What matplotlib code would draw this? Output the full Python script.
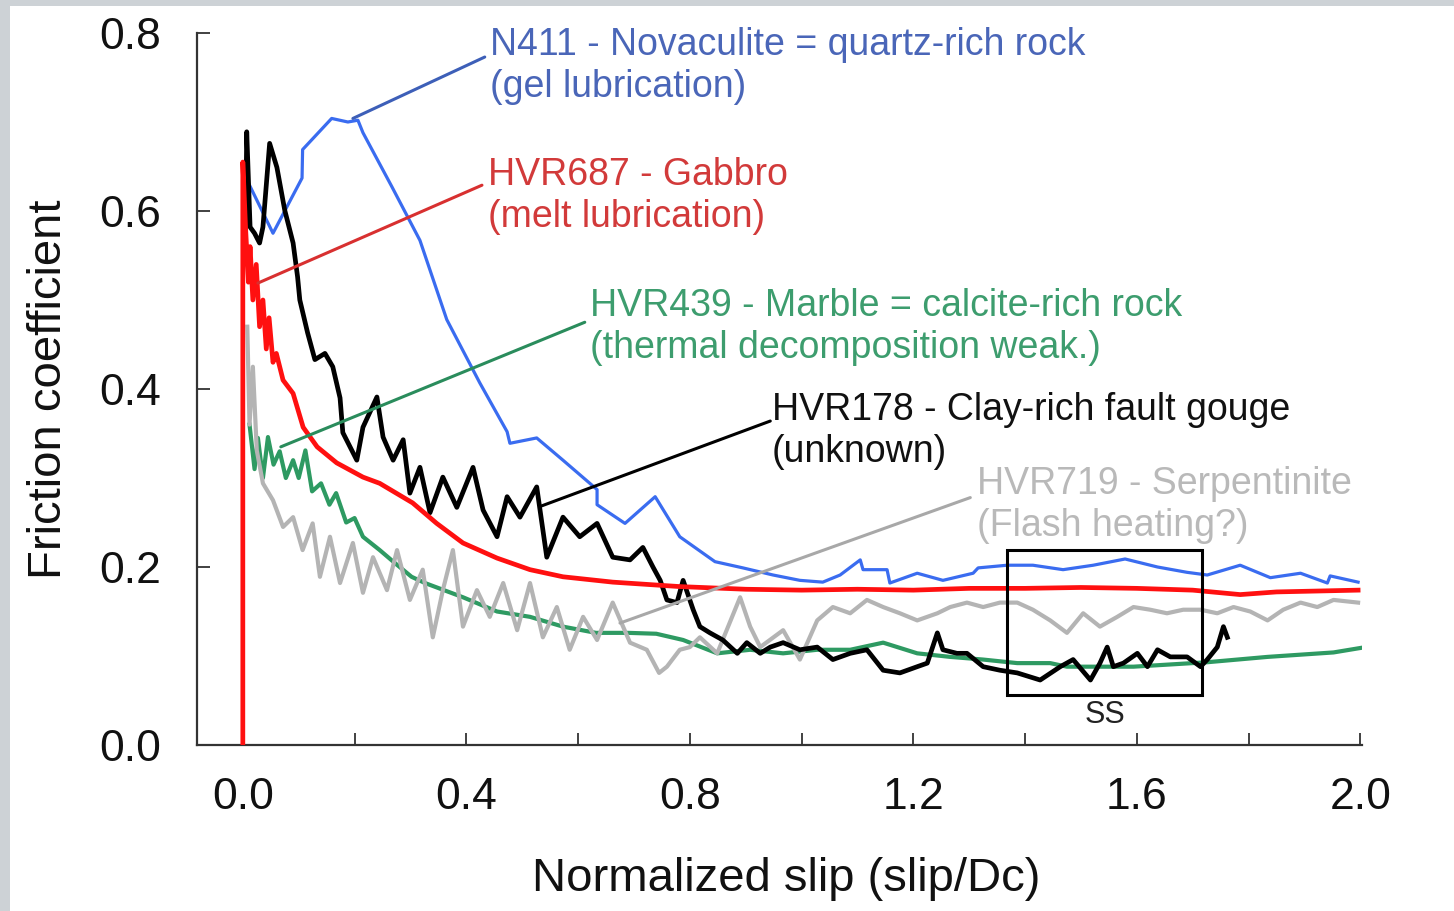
"""Friction coefficient vs normalized slip for five high-velocity rotary shear runs."""

import matplotlib
matplotlib.use('Agg')
import matplotlib.pyplot as plt
from matplotlib.patches import Rectangle

plt.rcParams['font.family'] = ['Liberation Sans', 'DejaVu Sans']

# ------------------------------------------------------------------
# Data
# ------------------------------------------------------------------

blue_x = [0.012, 0.054, 0.106, 0.107, 0.159, 0.188, 0.206, 0.215, 0.267, 0.317,
          0.365, 0.424, 0.473, 0.478, 0.526, 0.573, 0.634, 0.634, 0.684, 0.738,
          0.782, 0.845, 0.895, 0.949, 0.997, 1.038, 1.069, 1.105, 1.110, 1.153,
          1.158, 1.207, 1.253, 1.307, 1.316, 1.368, 1.414, 1.468, 1.522, 1.579,
          1.637, 1.690, 1.726, 1.785, 1.839, 1.893, 1.941, 1.946, 1.996]
blue_y = [0.629, 0.575, 0.637, 0.669, 0.704, 0.700, 0.702, 0.688, 0.627, 0.567,
          0.478, 0.407, 0.352, 0.339, 0.345, 0.320, 0.287, 0.270, 0.249, 0.279,
          0.234, 0.206, 0.199, 0.191, 0.185, 0.183, 0.191, 0.208, 0.197, 0.197,
          0.182, 0.193, 0.185, 0.193, 0.199, 0.202, 0.202, 0.197, 0.202, 0.209,
          0.200, 0.194, 0.191, 0.202, 0.188, 0.193, 0.182, 0.190, 0.183]

red_x = [0.000, 0.000, 0.005, 0.010, 0.013, 0.018, 0.024, 0.030, 0.036, 0.042,
         0.047, 0.054, 0.060, 0.072, 0.090, 0.108, 0.133, 0.168, 0.215, 0.245,
         0.304, 0.347, 0.394, 0.455, 0.514, 0.573, 0.662, 0.782, 0.900, 1.000,
         1.100, 1.200, 1.300, 1.400, 1.500, 1.600, 1.700, 1.785, 1.850, 1.996]
red_y = [0.000, 0.655, 0.580, 0.520, 0.560, 0.500, 0.540, 0.470, 0.500, 0.445,
         0.480, 0.430, 0.440, 0.410, 0.395, 0.357, 0.335, 0.317, 0.301, 0.294,
         0.272, 0.249, 0.227, 0.210, 0.197, 0.189, 0.183, 0.178, 0.175, 0.174,
         0.175, 0.174, 0.176, 0.176, 0.177, 0.176, 0.174, 0.169, 0.172, 0.174]

green_x = [0.012, 0.021, 0.027, 0.036, 0.045, 0.055, 0.066, 0.077, 0.090, 0.100,
           0.112, 0.124, 0.140, 0.155, 0.167, 0.185, 0.200, 0.215, 0.245, 0.273,
           0.302, 0.326, 0.394, 0.455, 0.514, 0.573, 0.632, 0.690, 0.740, 0.788,
           0.849, 0.908, 0.967, 1.028, 1.087, 1.146, 1.207, 1.266, 1.325, 1.386,
           1.445, 1.475, 1.594, 1.726, 1.834, 1.952, 2.000]
green_y = [0.360, 0.310, 0.345, 0.300, 0.346, 0.315, 0.330, 0.300, 0.320, 0.300,
           0.331, 0.285, 0.294, 0.270, 0.283, 0.250, 0.255, 0.234, 0.219, 0.204,
           0.189, 0.182, 0.166, 0.150, 0.144, 0.133, 0.126, 0.126, 0.125, 0.118,
           0.103, 0.107, 0.103, 0.107, 0.107, 0.115, 0.103, 0.099, 0.096, 0.092,
           0.092, 0.088, 0.088, 0.093, 0.099, 0.104, 0.109]

gray_x = [0.008, 0.012, 0.018, 0.025, 0.036, 0.054, 0.072, 0.090, 0.107, 0.125,
          0.138, 0.156, 0.174, 0.197, 0.215, 0.233, 0.258, 0.276, 0.299, 0.322,
          0.340, 0.358, 0.376, 0.394, 0.419, 0.442, 0.466, 0.491, 0.514, 0.537,
          0.562, 0.585, 0.609, 0.634, 0.662, 0.693, 0.723, 0.745, 0.759, 0.782,
          0.800, 0.818, 0.849, 0.890, 0.908, 0.926, 0.967, 0.997, 1.028, 1.056,
          1.087, 1.117, 1.146, 1.176, 1.207, 1.243, 1.266, 1.296, 1.325, 1.355,
          1.386, 1.414, 1.445, 1.475, 1.504, 1.534, 1.565, 1.594, 1.624, 1.654,
          1.683, 1.714, 1.744, 1.773, 1.803, 1.834, 1.862, 1.893, 1.923, 1.952,
          1.996]
gray_y = [0.470, 0.360, 0.425, 0.331, 0.294, 0.275, 0.245, 0.256, 0.219, 0.249,
          0.189, 0.234, 0.182, 0.227, 0.171, 0.211, 0.174, 0.219, 0.163, 0.197,
          0.121, 0.174, 0.219, 0.133, 0.174, 0.144, 0.182, 0.129, 0.182, 0.121,
          0.155, 0.107, 0.144, 0.118, 0.160, 0.115, 0.107, 0.081, 0.088, 0.107,
          0.110, 0.121, 0.103, 0.166, 0.133, 0.110, 0.129, 0.096, 0.140, 0.155,
          0.148, 0.163, 0.155, 0.148, 0.140, 0.148, 0.155, 0.160, 0.155, 0.160,
          0.160, 0.152, 0.140, 0.126, 0.148, 0.133, 0.144, 0.155, 0.152, 0.148,
          0.152, 0.152, 0.148, 0.155, 0.150, 0.140, 0.152, 0.160, 0.155, 0.163,
          0.160]

black_x = [0.005, 0.007, 0.013, 0.021, 0.030, 0.036, 0.048, 0.061, 0.075, 0.090,
           0.098, 0.102, 0.116, 0.129, 0.147, 0.161, 0.174, 0.179, 0.204, 0.215,
           0.240, 0.251, 0.269, 0.287, 0.299, 0.317, 0.335, 0.358, 0.383, 0.412,
           0.430, 0.455, 0.473, 0.496, 0.526, 0.544, 0.573, 0.603, 0.634, 0.662,
           0.693, 0.716, 0.734, 0.747, 0.759, 0.777, 0.788, 0.806, 0.818, 0.836,
           0.859, 0.885, 0.902, 0.926, 0.944, 0.967, 0.997, 1.028, 1.056, 1.087,
           1.117, 1.146, 1.176, 1.207, 1.225, 1.243, 1.253, 1.278, 1.296, 1.325,
           1.355, 1.386, 1.427, 1.463, 1.486, 1.517, 1.534, 1.547, 1.558, 1.576,
           1.601, 1.619, 1.637, 1.660, 1.690, 1.714, 1.726, 1.744, 1.755, 1.762]
black_y = [0.580, 0.689, 0.582, 0.575, 0.564, 0.582, 0.676, 0.649, 0.601, 0.564,
           0.526, 0.500, 0.463, 0.433, 0.440, 0.425, 0.390, 0.351, 0.320, 0.357,
           0.391, 0.346, 0.320, 0.343, 0.283, 0.312, 0.261, 0.301, 0.267, 0.312,
           0.264, 0.234, 0.279, 0.256, 0.290, 0.211, 0.256, 0.234, 0.249, 0.211,
           0.208, 0.222, 0.200, 0.185, 0.163, 0.160, 0.185, 0.152, 0.133, 0.126,
           0.118, 0.103, 0.115, 0.103, 0.110, 0.115, 0.107, 0.110, 0.096, 0.103,
           0.107, 0.084, 0.081, 0.088, 0.092, 0.126, 0.107, 0.103, 0.103, 0.088,
           0.084, 0.081, 0.073, 0.088, 0.096, 0.073, 0.092, 0.110, 0.088, 0.092,
           0.103, 0.088, 0.107, 0.099, 0.099, 0.088, 0.096, 0.110, 0.133, 0.121]

# annotation text, where its leader line touches the curve, where it ends
LABELS = {
    'blue':  'N411 - Novaculite = quartz-rich rock\n(gel lubrication)',
    'red':   'HVR687 - Gabbro\n(melt lubrication)',
    'green': 'HVR439 - Marble = calcite-rich rock\n(thermal decomposition weak.)',
    'black': 'HVR178 - Clay-rich fault gouge\n(unknown)',
    'gray':  'HVR719 - Serpentinite\n(Flash heating?)',
}
LEADER_FROM = {'blue': (0.197, 0.704), 'red': (0.027, 0.519), 'green': (0.068, 0.335),
               'black': (0.532, 0.268), 'gray': (0.675, 0.137)}
LEADER_TO = {'blue': (0.433, 0.773), 'red': (0.428, 0.629), 'green': (0.612, 0.475),
             'black': (0.944, 0.364), 'gray': (1.302, 0.278)}
TEXT_AT = {'blue': (0.442, 0.763), 'red': (0.439, 0.617), 'green': (0.621, 0.470),
           'black': (0.947, 0.353), 'gray': (1.314, 0.270)}

SS_X = (1.368, 1.717)
SS_Y = (0.056, 0.219)

LINE_COLORS = {'blue': '#3a6cf0', 'red': '#ff1010', 'green': '#2e9a62',
               'black': '#000000', 'gray': '#b4b4b4'}
TEXT_COLORS = {'blue': '#4a66b8', 'red': '#d23a3a', 'green': '#3d9d6e',
               'black': '#111111', 'gray': '#b9b9b9'}
LEADER_COLORS = {'blue': '#3d5fb8', 'red': '#d83030', 'green': '#2a8c5c',
                 'black': '#000000', 'gray': '#a8a8a8'}


def main():
    fig = plt.figure(figsize=(14.54, 9.11), dpi=100, facecolor='#cdd2d6')
    # white card over the textured backdrop
    fig.patches.append(Rectangle((10 / 1454, 0), 1, 1 - 6 / 911, transform=fig.transFigure,
                                 facecolor='white', edgecolor='none', zorder=-5))

    ax = fig.add_axes([197 / 1454, 1 - 745 / 911, 1165 / 1454, 712 / 911])
    ax.set_facecolor('none')

    ax.plot(green_x, green_y, color=LINE_COLORS['green'], lw=3.0, zorder=2)
    ax.plot(gray_x, gray_y, color=LINE_COLORS['gray'], lw=3.0, zorder=3)
    ax.plot(blue_x, blue_y, color=LINE_COLORS['blue'], lw=2.3, zorder=4)
    ax.plot(black_x, black_y, color=LINE_COLORS['black'], lw=3.4, zorder=5)
    ax.plot(red_x, red_y, color=LINE_COLORS['red'], lw=3.4, zorder=6)

    for key in LABELS:
        ax.annotate('', xy=LEADER_FROM[key], xytext=LEADER_TO[key],
                    arrowprops=dict(arrowstyle='-', color=LEADER_COLORS[key], lw=2.2,
                                    shrinkA=0, shrinkB=0), zorder=7)
        ax.text(*TEXT_AT[key], LABELS[key], color=TEXT_COLORS[key], fontsize=27,
                ha='left', va='center', linespacing=1.2, zorder=8, clip_on=False)

    ax.add_patch(Rectangle((SS_X[0], SS_Y[0]), SS_X[1] - SS_X[0], SS_Y[1] - SS_Y[0],
                           fill=False, edgecolor='black', lw=2.2, zorder=9))
    ax.text(sum(SS_X) / 2, SS_Y[0] - 0.022, 'SS', ha='center', va='center',
            fontsize=22, color='#222222')

    ax.set_xlim(-0.082, 2.003)
    ax.set_ylim(0, 0.8)
    ax.set_xticks([0.0, 0.4, 0.8, 1.2, 1.6, 2.0])
    ax.set_xticks([0.2, 0.6, 1.0, 1.4, 1.8], minor=True)
    ax.set_yticks([0.0, 0.2, 0.4, 0.6, 0.8])
    ax.set_xticklabels(['0.0', '0.4', '0.8', '1.2', '1.6', '2.0'])
    ax.set_yticklabels(['0.0', '0.2', '0.4', '0.6', '0.8'])
    ax.tick_params(axis='both', which='both', direction='in', length=9, width=1.3,
                   color='#333333', labelsize=32, labelcolor='#111111')
    ax.tick_params(axis='x', pad=23)
    ax.tick_params(axis='y', pad=26)

    for side in ('top', 'right'):
        ax.spines[side].set_visible(False)
    for side in ('left', 'bottom'):
        ax.spines[side].set_color('#333333')
        ax.spines[side].set_linewidth(1.6)

    ax.set_xlabel('Normalized slip (slip/Dc)', fontsize=34, color='#111111')
    ax.set_ylabel('Friction coefficient', fontsize=34, color='#111111')
    ax.xaxis.set_label_coords(0.506, -0.157)
    ax.yaxis.set_label_coords(-0.108, 0.5)

    fig.savefig('out.png', dpi=100, facecolor=fig.get_facecolor())
    plt.close(fig)


if __name__ == '__main__':
    main()
